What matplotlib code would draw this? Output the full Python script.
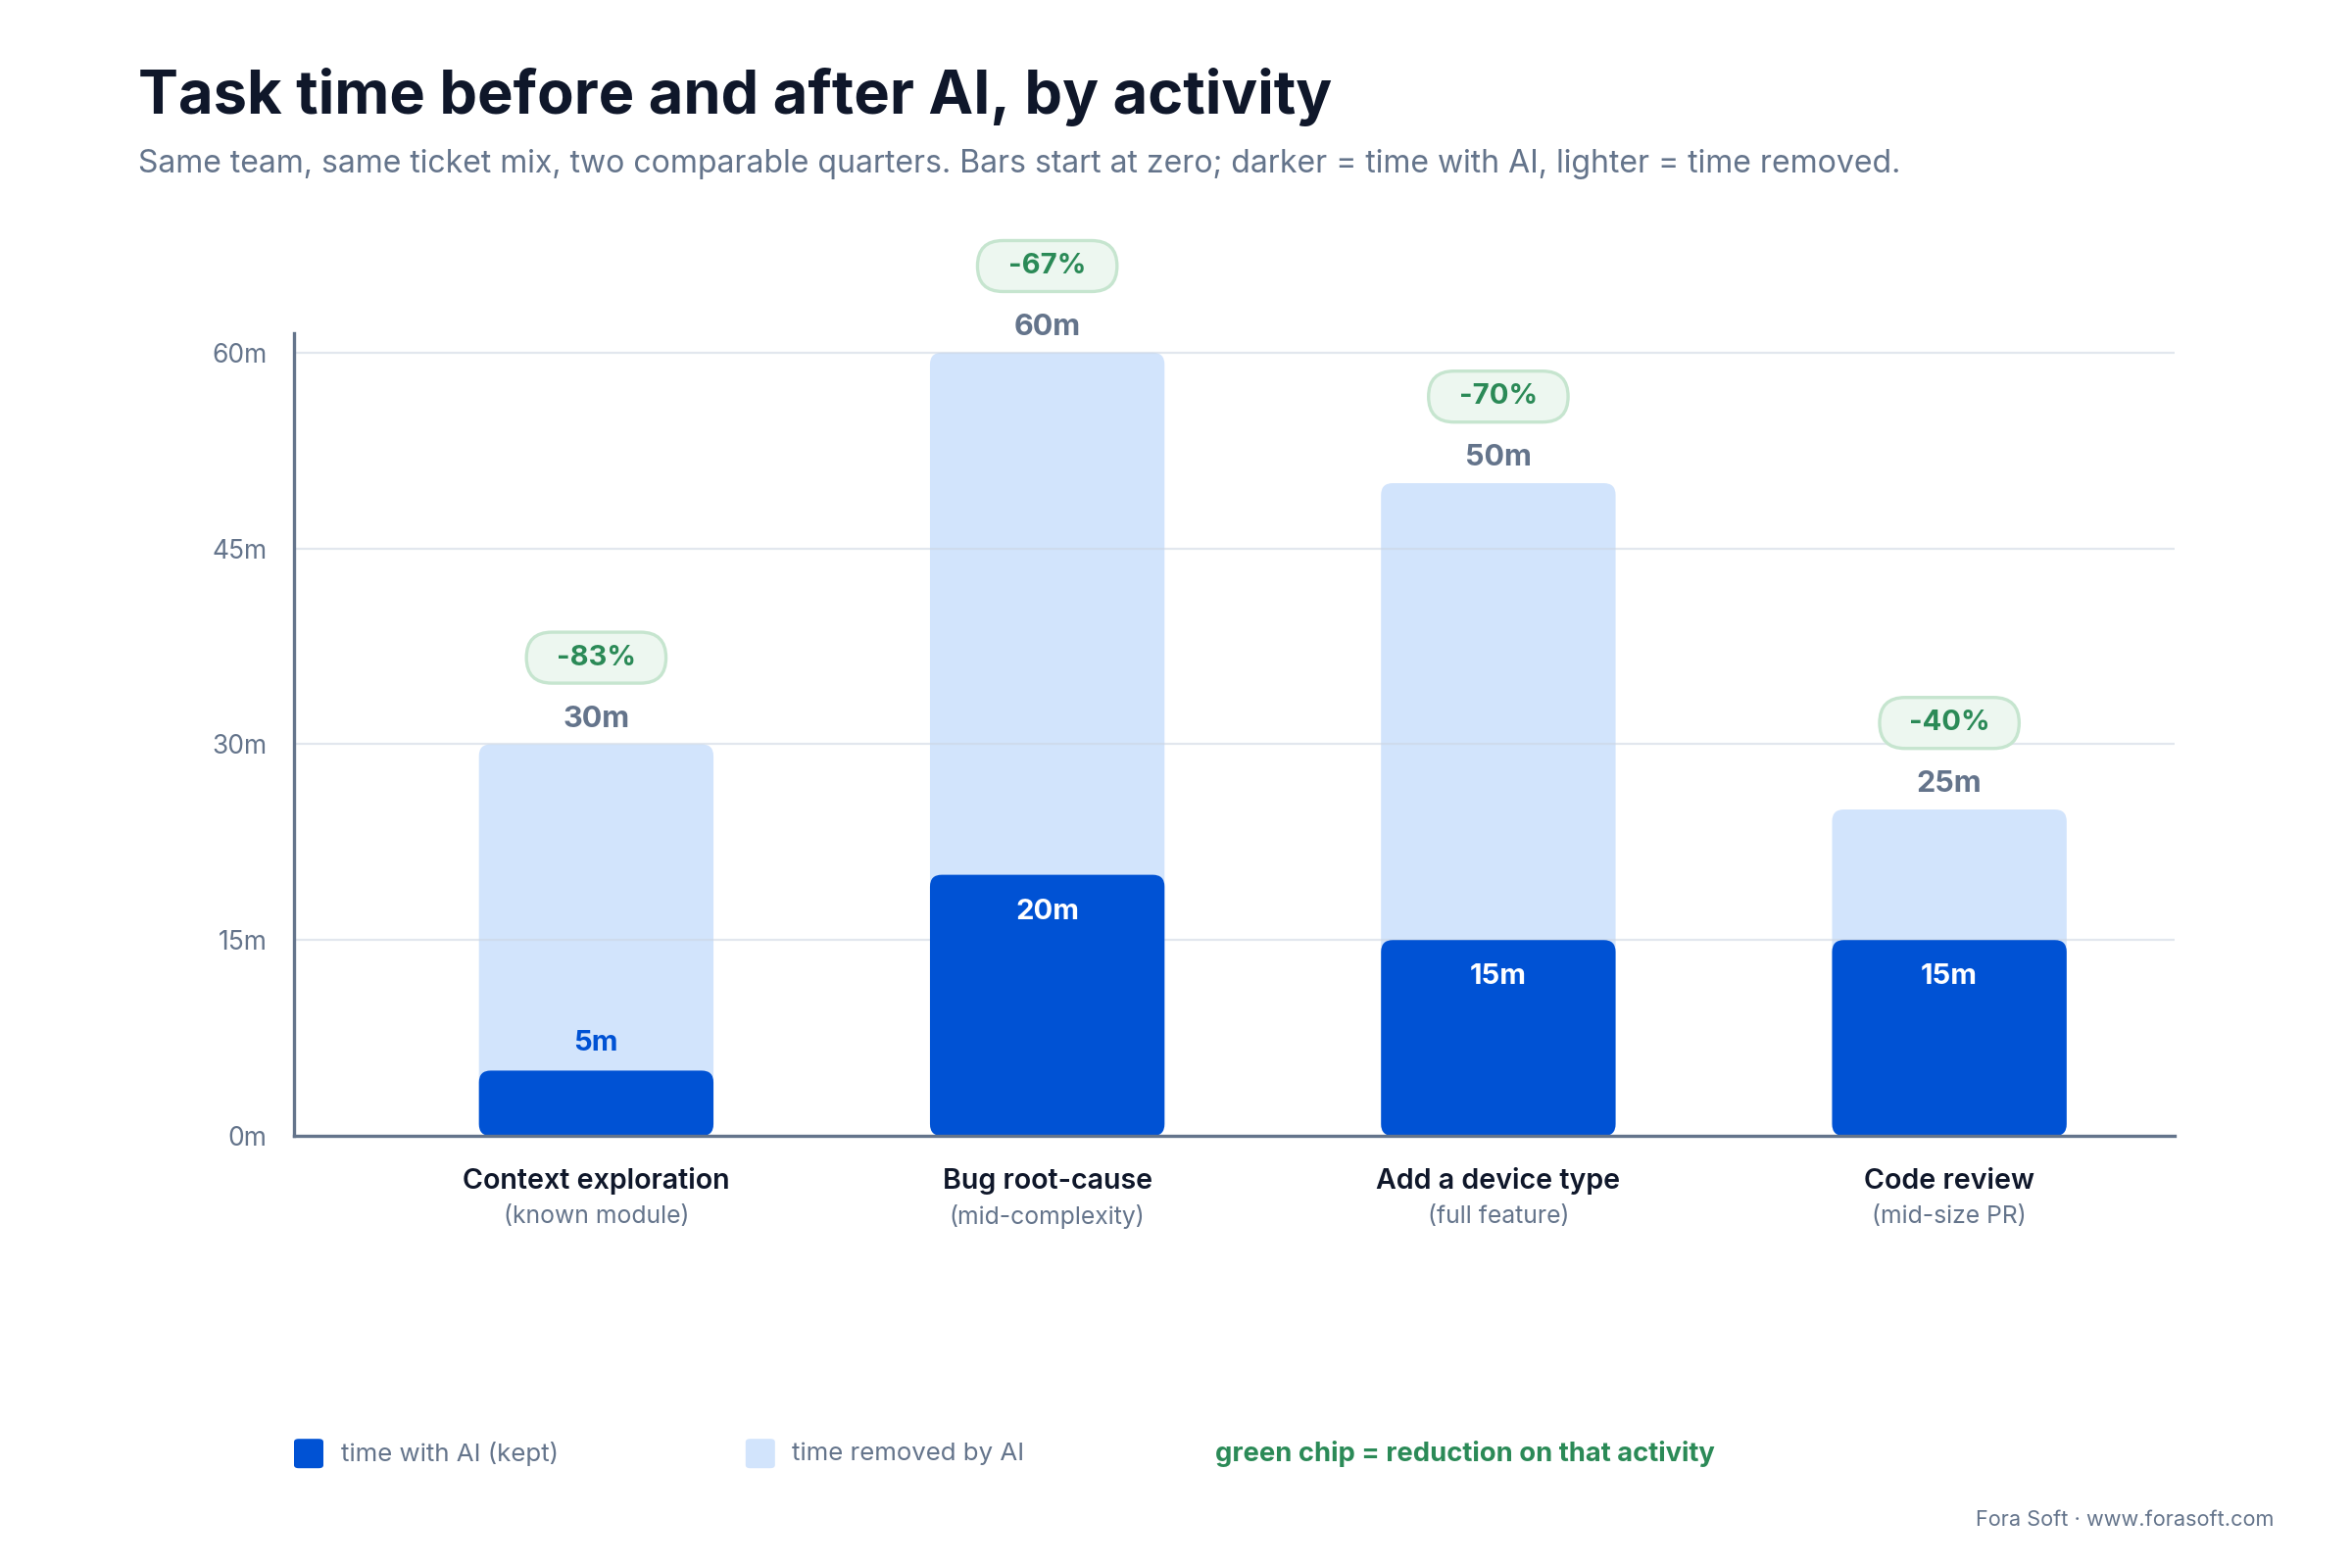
import matplotlib
matplotlib.use("Agg")
import matplotlib.pyplot as plt
from matplotlib.patches import FancyBboxPatch
from matplotlib.transforms import ScaledTranslation

plt.rcParams['font.family'] = ['Inter', 'DejaVu Sans']

# data
categories = ["Context exploration", "Bug root-cause", "Add a device type", "Code review"]
sublabels = ["(known module)", "(mid-complexity)", "(full feature)", "(mid-size PR)"]
before_ai = [30, 60, 50, 25]   # minutes before AI
with_ai = [5, 20, 15, 15]      # minutes with AI (kept)
y_ticks = [0, 15, 30, 45, 60]

DARK = "#0052d4"
LIGHT = "#d2e4fc"
GRAY = "#64748b"
INK = "#0f172a"
GREEN = "#2b8a57"

fig = plt.figure(figsize=(12, 8), dpi=200)
ax = fig.add_axes([0.125, 0.2756, 0.7997, 0.512])
ax.set_xlim(-0.67, 3.5)
ax.set_ylim(0, 61.5)

# aspect for rounded corners in data units
ax_w_px = 0.7997 * 12 * 200
ax_h_px = 0.512 * 8 * 200
xpx = ax_w_px / (3.5 + 0.67)
ypx = ax_h_px / 61.5
aspect = xpx / ypx
r = 12 / xpx

width = 0.52
xs = list(range(len(categories)))


def rounded_bar(x, h, color, z):
    p = FancyBboxPatch((x - width / 2, 0), width, h,
                       boxstyle=f"round,pad=0,rounding_size={r}",
                       mutation_aspect=aspect, facecolor=color,
                       edgecolor="none", zorder=z)
    ax.add_patch(p)


for x, b, a in zip(xs, before_ai, with_ai):
    rounded_bar(x, b, LIGHT, 1)
    rounded_bar(x, a, DARK, 3)

# grid
for t in y_ticks[1:]:
    ax.axhline(t, color="#cbd5e1", alpha=0.55, lw=0.8, zorder=2)

ax.set_yticks(y_ticks)
ax.set_yticklabels([f"{t}m" for t in y_ticks])
ax.tick_params(axis="y", length=0, pad=10, labelsize=9.5, labelcolor=GRAY)
ax.set_xticks([])
for s in ["top", "right"]:
    ax.spines[s].set_visible(False)
for s in ["left", "bottom"]:
    ax.spines[s].set_color(GRAY)
    ax.spines[s].set_linewidth(1.2)
    ax.spines[s].set_zorder(4)

# labels
for x, b, a, cat, sub in zip(xs, before_ai, with_ai, categories, sublabels):
    ax.annotate(f"{b}m", (x, b), xytext=(0, 9.2), textcoords="offset points",
                ha="center", va="center", fontsize=11, fontweight="bold", color=GRAY)
    if a >= 10:
        ax.annotate(f"{a}m", (x, a), xytext=(0, -13.5), textcoords="offset points",
                    ha="center", va="center", fontsize=10.5, fontweight="bold",
                    color="white", zorder=5)
    else:
        ax.annotate(f"{a}m", (x, a), xytext=(0, 10.2), textcoords="offset points",
                    ha="center", va="center", fontsize=10.5, fontweight="bold",
                    color=DARK, zorder=5)

    # green chip
    pct = round((b - a) / b * 100)
    off = ScaledTranslation(x, b, ax.transData)
    tr = fig.dpi_scale_trans + off
    cy = 31.8 / 72
    cw, ch = 0.712, 0.26
    chip = FancyBboxPatch((-cw / 2, cy - ch / 2), cw, ch,
                          boxstyle=f"round,pad=0,rounding_size={ch / 2}",
                          facecolor="#edf7f0", edgecolor="#c6e5cf", lw=1.2,
                          transform=tr, clip_on=False, zorder=5)
    ax.add_patch(chip)
    ax.annotate(f"-{pct}%", (x, b), xytext=(0, 31.8), textcoords="offset points",
                ha="center", va="center", fontsize=10.5, fontweight="bold",
                color=GREEN, zorder=6)

    ax.annotate(cat, (x, 0), xycoords=("data", "axes fraction"), xytext=(0, -16.6),
                textcoords="offset points", ha="center", va="center",
                fontsize=10.3, fontweight="semibold", color=INK, annotation_clip=False)
    ax.annotate(sub, (x, 0), xycoords=("data", "axes fraction"), xytext=(0, -29.8),
                textcoords="offset points", ha="center", va="center",
                fontsize=8.9, color=GRAY, annotation_clip=False)

# title
fig.text(0.0587, 0.9275, "Task time before and after AI, by activity",
         fontsize=22.1, fontweight="bold", color=INK, va="baseline")
fig.text(0.0587, 0.890,
         "Same team, same ticket mix, two comparable quarters. Bars start at zero; "
         "darker = time with AI, lighter = time removed.",
         fontsize=11.53, color=GRAY, va="baseline")

# legend
sq = 30 / 2400
for lx, tx, col, lab in [(0.125, 0.1448, DARK, "time with AI (kept)"),
                         (0.317, 0.3367, LIGHT, "time removed by AI")]:
    fig.patches.append(FancyBboxPatch((lx, 0.073 - sq * 1.5 / 2), sq, sq * 1.5,
                                      boxstyle="round,pad=0,rounding_size=0.002",
                                      facecolor=col, edgecolor="none",
                                      transform=fig.transFigure, figure=fig))
    fig.text(tx, 0.073, lab, fontsize=9.3, color=GRAY, va="center")
fig.text(0.5166, 0.073, "green chip = reduction on that activity",
         fontsize=9.85, fontweight="bold", color=GREEN, va="center")

fig.text(0.9668, 0.0306, "Fora Soft · www.forasoft.com", fontsize=7.8,
         color=GRAY, ha="right", va="center")

fig.savefig("out.png", dpi=200, facecolor="white")
